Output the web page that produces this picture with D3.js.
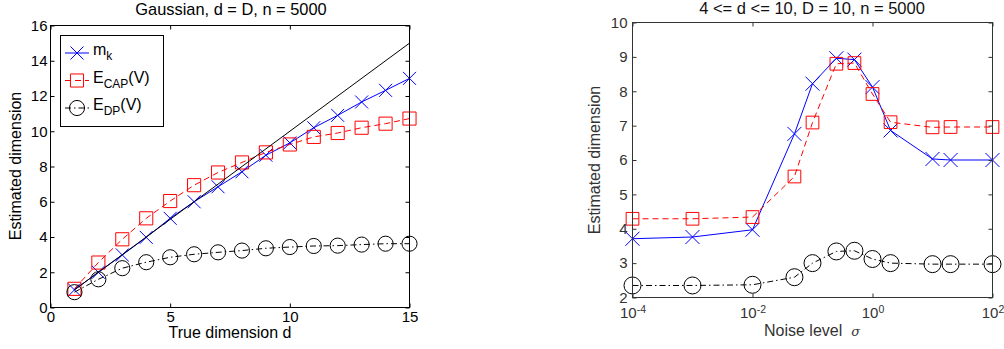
<!DOCTYPE html>
<html>
<head>
<meta charset="utf-8">
<script src="https://cdn.jsdelivr.net/npm/d3@7"></script>
<style>
  body { margin: 0; background: #fff; }
  svg { font-family: "Liberation Sans", Arial, Helvetica, sans-serif; }
</style>
</head>
<body>
<div id="chart"></div>
<script>
// left panel: gaussian, d = D
const dims = [1, 2, 3, 4, 5, 6, 7, 8, 9, 10, 11, 12, 13, 14, 15];
const mkGauss = [1.0, 2.0, 2.98, 3.98, 5.06, 6.0, 6.85, 7.7, 8.64, 9.34, 10.2, 10.9, 11.66, 12.32, 13.0];
const capGauss = [1.06, 2.55, 3.87, 5.06, 6.04, 6.94, 7.66, 8.23, 8.8, 9.25, 9.68, 9.9, 10.2, 10.43, 10.72];
const dpGauss = [0.87, 1.6, 2.23, 2.57, 2.85, 3.02, 3.13, 3.23, 3.36, 3.43, 3.49, 3.51, 3.57, 3.62, 3.62];
const gaussXTicks = [0, 5, 10, 15];
const gaussYTicks = [0, 2, 4, 6, 8, 10, 12, 14, 16];

// right panel: noise level
const noise = [1e-4, 1e-3, 1e-2, 0.05, 0.1, 0.25, 0.5, 1, 2, 10, 20, 100];
const mkNoise = [3.71, 3.76, 3.97, 6.76, 8.22, 8.96, 8.92, 8.12, 6.86, 6.03, 6.0, 6.0];
const capNoise = [4.29, 4.29, 4.34, 5.52, 7.09, 8.8, 8.82, 7.92, 7.1, 6.95, 6.96, 6.96];
const dpNoise = [2.35, 2.35, 2.37, 2.59, 3.0, 3.34, 3.36, 3.12, 3.0, 2.97, 2.97, 2.97];
const noiseXTicks = [1e-4, 1e-2, 1, 100];
const noiseXExp = ["-4", "-2", "0", "2"];
const noiseYTicks = [2, 3, 4, 5, 6, 7, 8, 9, 10];

const svg = d3.select("#chart")
  .append("svg")
  .attr("width", 1004)
  .attr("height", 349);

const styles = {
  mk:  {color: "#0000ff", dash: null, type: d3.symbolTimes},
  cap: {color: "#ff0000", dash: "6,4", type: d3.symbolSquare},
  dp:  {color: "#000000", dash: "6,3,1.5,3", type: d3.symbolCircle}
};

function drawSeries(g, x, y, xs, ys, st, size) {
  const pts = xs.map((v, i) => [v, ys[i]]);
  g.append("path")
    .datum(pts)
    .attr("fill", "none")
    .attr("stroke", st.color)
    .attr("stroke-width", 1)
    .attr("stroke-dasharray", st.dash)
    .attr("d", d3.line().x(d => x(d[0])).y(d => y(d[1])));
  g.append("g")
    .selectAll("path")
    .data(pts)
    .join("path")
    .attr("transform", d => `translate(${x(d[0])},${y(d[1])})`)
    .attr("d", d3.symbol().type(st.type).size(size))
    .attr("fill", "none")
    .attr("stroke", st.color)
    .attr("stroke-width", 1);
}

function drawFrame(g, x, y, xTicks, yTicks, color, fs, padX, padY) {
  const [x0, x1] = x.range();
  const [y0, y1] = y.range();
  const bottom = g.append("g").attr("transform", `translate(0,${y0})`)
    .call(d3.axisBottom(x).tickValues(xTicks).tickSizeInner(-4).tickSizeOuter(0).tickPadding(padX));
  g.append("g").attr("transform", `translate(0,${y1})`)
    .call(d3.axisTop(x).tickValues(xTicks).tickSizeInner(-4).tickSizeOuter(0).tickFormat(""));
  const left = g.append("g").attr("transform", `translate(${x0},0)`)
    .call(d3.axisLeft(y).tickValues(yTicks).tickSizeInner(-4).tickSizeOuter(0).tickPadding(padY));
  g.append("g").attr("transform", `translate(${x1},0)`)
    .call(d3.axisRight(y).tickValues(yTicks).tickSizeInner(-4).tickSizeOuter(0).tickFormat(""));
  g.selectAll(".domain").remove();
  g.selectAll(".tick line").attr("stroke", color);
  g.selectAll(".tick text").attr("fill", color).attr("font-size", fs).attr("font-family", null);
  g.append("rect")
    .attr("x", x0).attr("y", y1)
    .attr("width", x1 - x0).attr("height", y0 - y1)
    .attr("fill", "none")
    .attr("stroke", color)
    .attr("stroke-width", 1);
  return {bottom, left};
}

// ---------- left panel ----------
const xL = d3.scaleLinear().domain([0, 15]).range([50.5, 409.5]);
const yL = d3.scaleLinear().domain([0, 16]).range([307.5, 25.5]);
const gL = svg.append("g");

drawSeries(gL, xL, yL, dims, mkGauss, styles.mk, 112);
drawSeries(gL, xL, yL, dims, capGauss, styles.cap, 172);
drawSeries(gL, xL, yL, dims, dpGauss, styles.dp, 180);

// reference line y = d
gL.append("path")
  .datum([dims[0], dims[dims.length - 1]])
  .attr("stroke", "#000")
  .attr("stroke-width", 1)
  .attr("d", d3.line().x(d => xL(d)).y(d => yL(d)));

drawFrame(gL, xL, yL, gaussXTicks, gaussYTicks, "#000", 15, 4, 3);

gL.append("text")
  .attr("x", 231).attr("y", 15)
  .attr("text-anchor", "middle").attr("font-size", 16.4)
  .text("Gaussian, d = D, n = 5000");
gL.append("text")
  .attr("x", 230).attr("y", 338)
  .attr("text-anchor", "middle").attr("font-size", 16)
  .text("True dimension d");
gL.append("text")
  .attr("transform", "translate(21,166) rotate(-90)")
  .attr("text-anchor", "middle").attr("font-size", 16)
  .text("Estimated dimension");

// legend
const legend = gL.append("g");
legend.append("rect")
  .attr("x", 60.5).attr("y", 35.5).attr("width", 103).attr("height", 91)
  .attr("fill", "#fff").attr("stroke", "#000").attr("stroke-width", 1);
const legItems = [
  {st: styles.mk, size: 112, main: "m", sub: "k", tail: ""},
  {st: styles.cap, size: 172, main: "E", sub: "CAP", tail: "(V)"},
  {st: styles.dp, size: 180, main: "E", sub: "DP", tail: "(V)"}
];
legItems.forEach((it, i) => {
  const ly = 53 + i * 27.5;
  legend.append("line")
    .attr("x1", 65).attr("x2", 89).attr("y1", ly).attr("y2", ly)
    .attr("stroke", it.st.color).attr("stroke-width", 1)
    .attr("stroke-dasharray", it.st.dash);
  legend.append("path")
    .attr("transform", `translate(77,${ly})`)
    .attr("d", d3.symbol().type(it.st.type).size(it.size))
    .attr("fill", "none").attr("stroke", it.st.color).attr("stroke-width", 1);
  const t = legend.append("text")
    .attr("x", 93).attr("y", ly + 2).attr("font-size", 16);
  t.append("tspan").text(it.main);
  t.append("tspan").attr("font-size", 12).attr("dy", 5).text(it.sub);
  t.append("tspan").attr("dy", -5).text(it.tail);
});

// ---------- right panel ----------
const gray = "#333333";
const xR = d3.scaleLog().domain([1e-4, 100]).range([632.5, 992.5]);
const yR = d3.scaleLinear().domain([2, 10]).range([297.5, 22.5]);
const gR = svg.append("g");

drawSeries(gR, xR, yR, noise, mkNoise, styles.mk, 130);
drawSeries(gR, xR, yR, noise, capNoise, styles.cap, 161);
drawSeries(gR, xR, yR, noise, dpNoise, styles.dp, 227);

const axR = drawFrame(gR, xR, yR, noiseXTicks, noiseYTicks, gray, 15, 6, 5);
axR.bottom.selectAll(".tick text").each(function(d, i) {
  const t = d3.select(this).text(null);
  t.append("tspan").text("10");
  t.append("tspan").attr("font-size", 10.5).attr("dy", -5).text(noiseXExp[i]);
});
axR.bottom.selectAll(".tick text").attr("dy", "0.95em");

gR.append("text")
  .attr("x", 812).attr("y", 14)
  .attr("text-anchor", "middle").attr("font-size", 16.5).attr("fill", "#111")
  .text("4 <= d <= 10, D = 10, n = 5000");
const xlab = gR.append("text")
  .attr("x", 812).attr("y", 336)
  .attr("text-anchor", "middle").attr("font-size", 16).attr("fill", gray)
  .attr("xml:space", "preserve");
xlab.append("tspan").text("Noise level  ");
xlab.append("tspan").attr("font-style", "italic").attr("font-family", "DejaVu Serif, serif").attr("font-size", 13).text("σ");
gR.append("text")
  .attr("transform", "translate(600,160) rotate(-90)")
  .attr("text-anchor", "middle").attr("font-size", 16).attr("fill", gray)
  .text("Estimated dimension");
</script>
</body>
</html>
